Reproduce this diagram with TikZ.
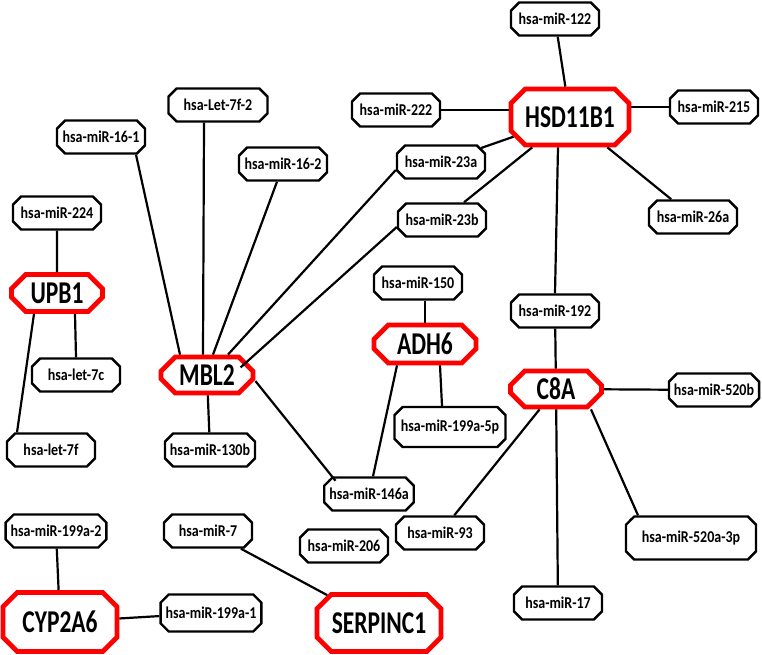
\documentclass[tikz,border=0pt]{standalone}
\usepackage{fontspec}
\setmainfont{Carlito}
\usetikzlibrary{shapes.misc, positioning}

\newcommand{\gn}[1]{\scalebox{1}[1.35]{#1}}
\newcommand{\mi}[1]{\scalebox{1}[1.18]{#1}}

\tikzset{
  mirna/.style={chamfered rectangle, chamfered rectangle xsep=5pt, draw=black, line width=2.4pt,
    fill=white, font=\bfseries\fontsize{14}{15}\selectfont, minimum width=88pt, minimum height=33pt, inner xsep=0pt},
  gene/.style={chamfered rectangle, chamfered rectangle xsep=11pt, draw=red, line width=4.8pt,
    fill=white, font=\bfseries\fontsize{23.5}{24}\selectfont, inner xsep=2pt},
  link/.style={line width=2.2pt}
}

\begin{document}
\begin{tikzpicture}[x=1pt, y=-1pt]
		\useasboundingbox (0,0) rectangle (762,655);

		% genes
		\node[gene, minimum width=91pt, minimum height=37pt] (upb) at (57,293) {\gn{UPB1}};
		\node[gene, minimum width=92pt, minimum height=36pt] (mbl) at (207,375) {\gn{MBL2}};
		\node[gene, minimum width=102pt, minimum height=38pt] (adh) at (425,344) {\gn{ADH6}};
		\node[gene, minimum width=118pt, minimum height=56pt] (hsd) at (570,117) {\gn{HSD11B1}};
		\node[gene, minimum width=91pt, minimum height=36pt] (c8a) at (556,389) {\gn{C8A}};
		\node[gene, minimum width=114pt, minimum height=59pt] (cyp) at (60,622) {\gn{CYP2A6}};
		\node[gene, minimum width=124pt, minimum height=57pt] (serp) at (379,623) {\gn{SERPINC1}};

		% microRNAs
		\node[mirna] (m224) at (57,213) {\mi{hsa-miR-224}};
		\node[mirna] (let7c) at (76,375) {\mi{hsa-let-7c}};
		\node[mirna] (let7f) at (51,450) {\mi{hsa-let-7f}};
		\node[mirna] (m161) at (101,137) {\mi{hsa-miR-16-1}};
		\node[mirna, minimum width=99pt] (let7f2) at (218,105) {\mi{hsa-Let-7f-2}};
		\node[mirna] (m162) at (283,164) {\mi{hsa-miR-16-2}};
		\node[mirna] (m130b) at (210,450) {\mi{hsa-miR-130b}};
		\node[mirna] (m146a) at (369,494) {\mi{hsa-miR-146a}};
		\node[mirna] (m206) at (344,546) {\mi{hsa-miR-206}};
		\node[mirna] (m150) at (418,283) {\mi{hsa-miR-150}};
		\node[mirna, minimum width=111pt, minimum height=40pt] (m199a5p) at (450,427) {\mi{hsa-miR-199a-5p}};
		\node[mirna] (m122) at (555,19) {\mi{hsa-miR-122}};
		\node[mirna] (m222) at (396,110) {\mi{hsa-miR-222}};
		\node[mirna] (m215) at (714,107) {\mi{hsa-miR-215}};
		\node[mirna] (m23a) at (441,162) {\mi{hsa-miR-23a}};
		\node[mirna] (m23b) at (442,220) {\mi{hsa-miR-23b}};
		\node[mirna] (m26a) at (693,217) {\mi{hsa-miR-26a}};
		\node[mirna] (m192) at (555,311) {\mi{hsa-miR-192}};
		\node[mirna] (m520b) at (714,390) {\mi{hsa-miR-520b}};
		\node[mirna] (m93) at (440,533) {\mi{hsa-miR-93}};
		\node[mirna, minimum width=130pt, minimum height=43pt] (m520a) at (691,538) {\mi{hsa-miR-520a-3p}};
		\node[mirna] (m17) at (558,603) {\mi{hsa-miR-17}};
		\node[mirna, minimum width=98pt] (m199a2) at (56,531) {\mi{hsa-miR-199a-2}};
		\node[mirna, minimum width=98pt, minimum height=37pt] (m199a1) at (211,613) {\mi{hsa-miR-199a-1}};
		\node[mirna] (m7) at (208,531) {\mi{hsa-miR-7}};

		% UPB1
		\draw[link] (m224) -- (upb);
		\draw[link] ([xshift=18pt]upb.south) -- (let7c.north);
		\draw[link] ([xshift=-23pt]upb.south) -- ([xshift=-34pt]let7f.north);

		% MBL2
		\draw[link] ([xshift=35pt]m161.south) -- ([xshift=-27pt]mbl.north);
		\draw[link] ([xshift=-14pt]let7f2.south) -- ([xshift=-4pt]mbl.north);
		\draw[link] ([xshift=-6pt]m162.south) -- ([xshift=6pt]mbl.north);
		\draw[link] ([yshift=-8pt]m23a.west) -- ([xshift=21pt]mbl.north);
		\draw[link] ([yshift=-7pt]m23b.west) -- ([xshift=-7pt,yshift=-5pt]mbl.north east);
		\draw[link] (mbl) -- (m130b);
		\draw[link] ([yshift=-6pt]mbl.east) -- ([xshift=8pt]m146a.north west);

		% ADH6
		\draw[link] ([xshift=7pt]m150.south) -- (adh.north);
		\draw[link] ([xshift=15pt]adh.south) -- ([xshift=-8pt]m199a5p.north);
		\draw[link] ([xshift=-28pt]adh.south) -- ([xshift=4pt]m146a.north);

		% HSD11B1
		\draw[link] (m122) -- (hsd);
		\draw[link] (m222.east) -- (hsd.west |- m222.east);
		\draw[link] (hsd.east |- m215.west) -- (m215.west);
		\draw[link] (hsd) -- (m23a);
		\draw[link] (hsd) -- (m23b);
		\draw[link] (hsd) -- (m26a);
		\draw[link] ([xshift=-12pt]hsd.south) -- (m192.north);

		% C8A
		\draw[link] (m192) -- (c8a);
		\draw[link] (c8a) -- (m520b);
		\draw[link] (c8a) -- (m93);
		\draw[link] (c8a) -- (m17);
		\draw[link] ([xshift=35pt]c8a.south) -- ([xshift=-53pt]m520a.north);

		% CYP2A6 and SERPINC1
		\draw[link] (m199a2) -- (cyp);
		\draw[link] (cyp) -- (m199a1);
		\draw[link] (m7) -- (serp);

	\end{tikzpicture}
\end{document}
